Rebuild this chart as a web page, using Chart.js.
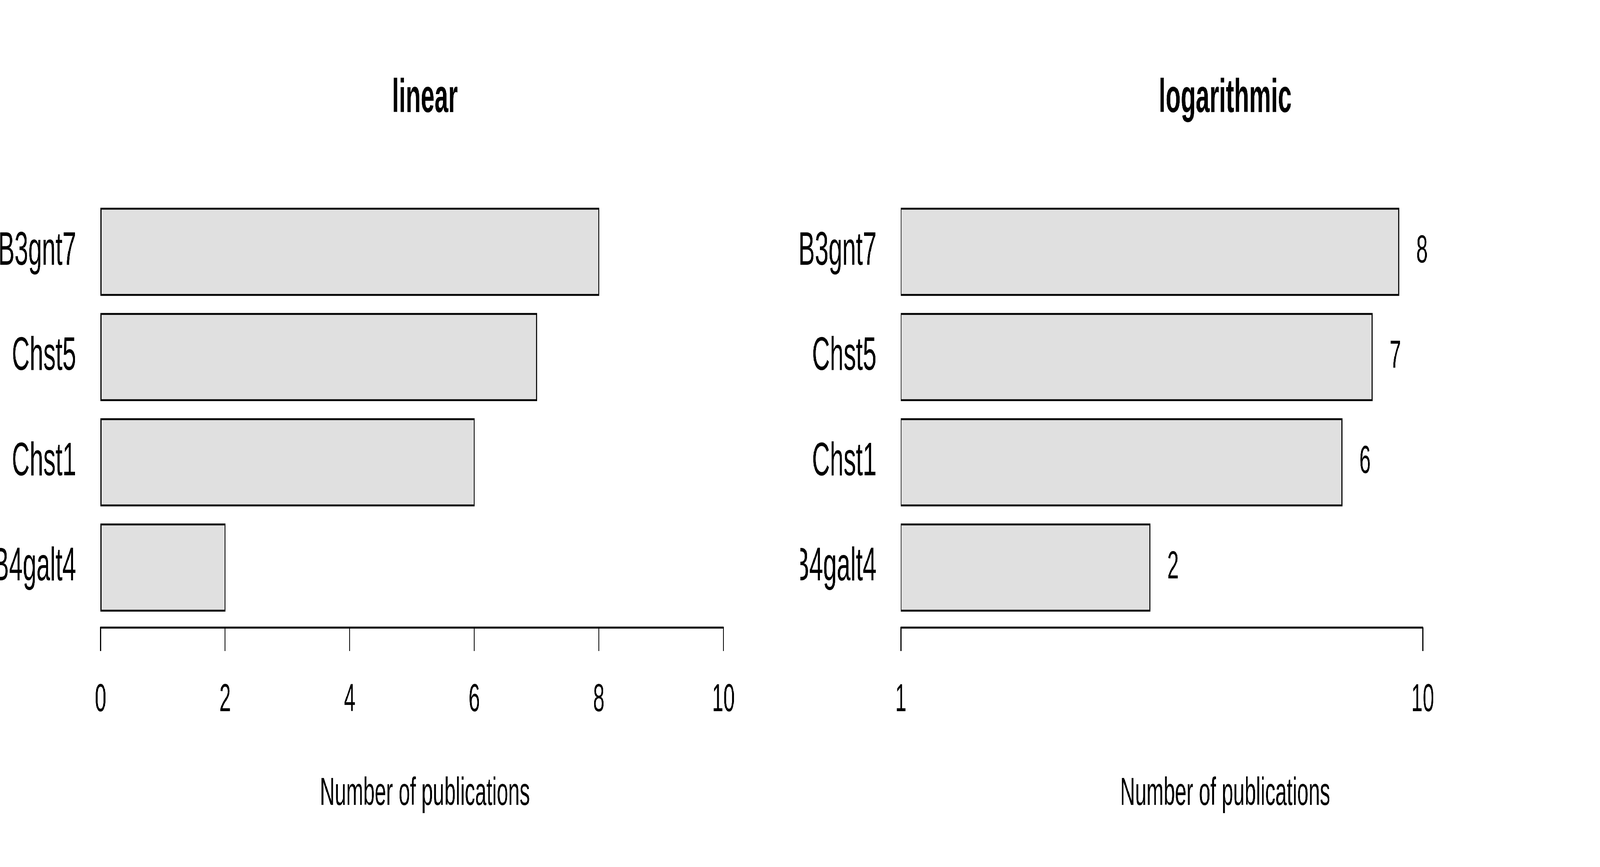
<!DOCTYPE html>
<html>
<head>
<meta charset="utf-8">
<script src="https://cdn.jsdelivr.net/npm/chart.js@4.4.1/dist/chart.umd.min.js"></script>
<style>
  html, body { margin: 0; padding: 0; background: #fff; overflow: hidden; }
  #wrap { position: relative; width: 7795px; height: 2220px; background: #fff; transform-origin: 0 0; }
  canvas { position: absolute; top: 0; }
</style>
</head>
<body>
<div id="wrap">
  <canvas id="linearChart" width="3899" height="2220" style="left:0px"></canvas>
  <canvas id="logChart" width="3896" height="2220" style="left:3899px"></canvas>
</div>
<script>
'use strict';

// values
var genes = ["B3gnt7", "Chst5", "Chst1", "B4galt4"];
var publications = [8, 7, 6, 2];
var linearTicks = [0, 2, 4, 6, 8, 10];
var logTicks = [1, 10];

// the page is laid out at 7795x2220; squeeze it into whatever window we get
var wrap = document.getElementById('wrap');
wrap.style.transform = 'scale(' + (window.innerWidth / 7795) + ',' + (window.innerHeight / 2220) + ')';

Chart.defaults.font.family = '"Liberation Sans", Arial, sans-serif';
Chart.defaults.color = '#000';

// axis line only runs from first to last tick (like R's axis())
var axisLinePlugin = {
  id: 'axisLine',
  afterDraw: function (chart) {
    var x = chart.scales.x;
    var ctx = chart.ctx;
    var first = x.ticks[0].value;
    var last = x.ticks[x.ticks.length - 1].value;
    ctx.save();
    ctx.strokeStyle = '#000';
    ctx.lineWidth = 5;
    ctx.lineCap = 'round';
    ctx.beginPath();
    ctx.moveTo(x.getPixelForValue(first), x.top);
    ctx.lineTo(x.getPixelForValue(last), x.top);
    ctx.stroke();
    ctx.restore();
  }
};

// the count printed right of each bar on the log panel
var countLabelPlugin = {
  id: 'countLabels',
  afterDatasetsDraw: function (chart) {
    var ctx = chart.ctx;
    var meta = chart.getDatasetMeta(0);
    ctx.save();
    ctx.fillStyle = '#000';
    ctx.font = '100px "Liberation Sans", Arial, sans-serif';
    ctx.textAlign = 'center';
    ctx.textBaseline = 'middle';
    meta.data.forEach(function (bar, i) {
      ctx.fillText(String(publications[i]), bar.x + 113, bar.y);
    });
    ctx.restore();
  }
};

function geneAxis() {
  return {
    type: 'linear',
    min: -0.57,
    max: 3.57,
    reverse: true,
    offset: false,
    grid: { display: false },
    border: { display: false },
    afterBuildTicks: function (scale) {
      scale.ticks = genes.map(function (g, i) { return { value: i }; });
    },
    afterFit: function (scale) { scale.width = 490; },
    ticks: {
      autoSkip: false,
      padding: 111,
      font: { size: 120 },
      callback: function (v) { return genes[v]; }
    }
  };
}

function countAxis(type, max, tickValues) {
  return {
    type: type,
    min: type === 'logarithmic' ? 1 : 0,
    max: max,
    grid: { drawOnChartArea: false, color: '#000', lineWidth: 5, tickLength: 60 },
    border: { display: false },
    afterBuildTicks: function (scale) {
      scale.ticks = tickValues.map(function (v) { return { value: v }; });
    },
    afterFit: function (scale) { scale.height = 613; },
    ticks: {
      autoSkip: false,
      maxRotation: 0,
      padding: 66,
      font: { size: 100 },
      callback: function (v) { return String(v); }
    },
    title: {
      display: true,
      text: 'Number of publications',
      font: { size: 100 },
      padding: { top: 0, bottom: 127 }
    }
  };
}

function makeChart(id, title, values, xAxis, rightPad, plugins) {
  return new Chart(document.getElementById(id), {
    type: 'bar',
    data: {
      datasets: [{
        data: values.map(function (v, i) { return { x: v, y: i }; }),
        backgroundColor: '#e0e0e0',
        borderColor: '#000',
        borderWidth: 5,
        borderSkipped: false,
        inflateAmount: 2.5,
        barPercentage: 0.82,
        categoryPercentage: 1
      }]
    },
    plugins: plugins,
    options: {
      indexAxis: 'y',
      responsive: false,
      devicePixelRatio: 1,
      animation: false,
      events: [],
      layout: { padding: { left: 0, right: rightPad, top: 0, bottom: 0 } },
      scales: { x: xAxis, y: geneAxis() },
      plugins: {
        legend: { display: false },
        tooltip: { enabled: false },
        title: {
          display: true,
          text: title,
          fullSize: false,
          font: { size: 120, weight: 'bold' },
          padding: { top: 182, bottom: 165 }
        }
      }
    }
  });
}

// linear panel
makeChart('linearChart', 'linear', publications,
  countAxis('linear', 10.415, linearTicks), 249, [axisLinePlugin]);

// logarithmic panel: bars are drawn at n + 1 on the log axis, labelled with n
makeChart('logChart', 'logarithmic', publications.map(function (v) { return v + 1; }),
  countAxis('logarithmic', 17.5, logTicks), 246, [axisLinePlugin, countLabelPlugin]);
</script>
</body>
</html>
